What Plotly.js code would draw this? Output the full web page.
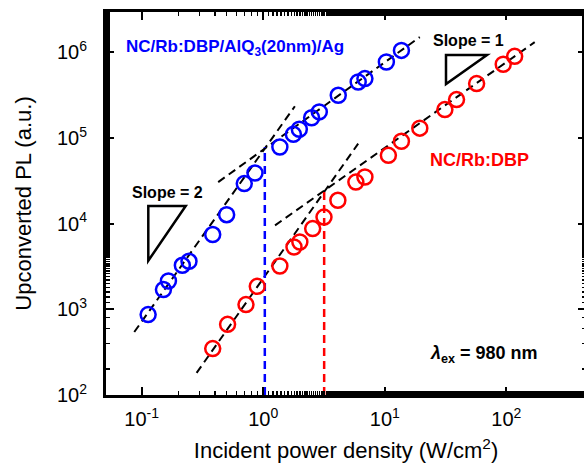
<!DOCTYPE html>
<html>
<head>
<meta charset="utf-8">
<script src="https://cdn.plot.ly/plotly-3.0.1.min.js"></script>
<style>html,body{margin:0;padding:0;overflow:hidden;background:#fff;}</style>
</head>
<body>
<div id="chart"></div>
<script>
// Data
const blueX = [0.113,0.151,0.166,0.216,0.245,0.384,0.500,0.698,0.855,1.37,1.77,1.98,2.50,2.89,4.14,6.04,6.86,10.3,13.7];
const blueY = [867,1698,2138,3260,3630,7450,12700,29300,38900,78300,110000,126000,172000,201000,314000,449000,492000,769000,1050000];
const redX = [0.384,0.509,0.721,0.893,1.37,1.79,2.00,2.55,3.16,4.11,5.78,6.86,10.7,13.7,19.4,31.2,38.9,56.9,94.2,117];
const redY = [348,668,1135,1854,3200,5330,6100,8740,11900,18700,30500,35000,62600,91300,130000,214000,280000,430000,723000,895000];

// Power-law fit guides (endpoints)
const fitBlue2X = [0.0869, 1.82];
const fitBlue2Y = [543, 234000];
const fitBlue1X = [0.426, 19.4];
const fitBlue1Y = [30500, 1500000];
const fitRed2X = [0.283, 6.04];
const fitRed2Y = [181, 85700];
const fitRed1X = [1.25, 171];
const fitRed1Y = [9550, 1310000];

// Threshold markers
const blueThreshX = [1.03, 1.03];
const blueThreshY = [100, 77600];
const redThreshX = [3.17, 3.17];
const redThreshY = [100, 24500];

const xTickVals = [0.1, 1, 10, 100];
const xTickText = ['10<sup>-1</sup>', '10<sup>0</sup>', '10<sup>1</sup>', '10<sup>2</sup>'];
const yTickVals = [100, 1000, 10000, 100000, 1000000];
const yTickText = ['10<sup>2</sup>', '10<sup>3</sup>', '10<sup>4</sup>', '10<sup>5</sup>', '10<sup>6</sup>'];

const W = 587, H = 464;
const M = {l: 106, r: 1, t: 12, b: 69};
const pw = W - M.l - M.r, ph = H - M.t - M.b;
const px = x => (x - M.l) / pw;
const py = y => (H - M.b - y) / ph;

const FONT = 'Arial, "Liberation Sans", Helvetica, sans-serif';
const BLUE = '#0000ff', RED = '#ff0000';

function fit(x, y) {
  return {x: x, y: y, mode: 'lines', type: 'scatter', hoverinfo: 'skip',
    line: {color: '#000', width: 2, dash: '8px,5px'}};
}
function vline(x, y, c) {
  return {x: x, y: y, mode: 'lines', type: 'scatter', hoverinfo: 'skip',
    line: {color: c, width: 2.5, dash: '8px,5px'}};
}
function pts(x, y, c) {
  return {x: x, y: y, mode: 'markers', type: 'scatter',
    marker: {symbol: 'circle-open', size: 15, color: c, line: {width: 2.5, color: c}}};
}

const traces = [
  fit(fitBlue2X, fitBlue2Y), fit(fitBlue1X, fitBlue1Y),
  fit(fitRed2X, fitRed2Y), fit(fitRed1X, fitRed1Y),
  vline(blueThreshX, blueThreshY, BLUE), vline(redThreshX, redThreshY, RED),
  pts(blueX, blueY, BLUE), pts(redX, redY, RED)
];

function tri(p) {
  return {type: 'path', xref: 'paper', yref: 'paper',
    path: 'M' + px(p[0][0]) + ',' + py(p[0][1]) + ' L' + px(p[1][0]) + ',' + py(p[1][1]) +
          ' L' + px(p[2][0]) + ',' + py(p[2][1]) + ' Z',
    line: {color: '#000', width: 2.5}};
}

function ann(text, x, y, color, size, xanchor) {
  return {text: text, xref: 'paper', yref: 'paper', x: px(x), y: py(y), showarrow: false,
    xanchor: xanchor || 'left', yanchor: 'middle',
    font: {family: FONT, size: size, color: color, weight: 'bold'}};
}

const axisCommon = {
  type: 'log', showgrid: false, zeroline: false,
  showline: true, linecolor: '#000', linewidth: 3, mirror: 'allticks',
  ticks: 'inside', ticklen: 8, tickwidth: 2, tickcolor: '#000',
  minor: {ticks: 'inside', ticklen: 4, tickwidth: 1.5, tickcolor: '#000', showgrid: false},
  tickfont: {family: FONT, size: 20, color: '#000'},
  tickmode: 'array'
};

const layout = {
  width: W, height: H, margin: M,
  paper_bgcolor: '#fff', plot_bgcolor: '#fff', showlegend: false,
  xaxis: Object.assign({}, axisCommon, {
    range: [Math.log10(0.1) - 0.2935, 2.655],
    tickvals: xTickVals, ticktext: xTickText, ticklabelstandoff: 4,
    title: {text: 'Incident power density (W/cm<sup>2</sup>)', font: {family: FONT, size: 22, color: '#000'}, standoff: 14}
  }),
  yaxis: Object.assign({}, axisCommon, {
    range: [2, 6.469],
    tickvals: yTickVals, ticktext: yTickText, ticklabelstandoff: 12,
    title: {text: 'Upconverted PL (a.u.)', font: {family: FONT, size: 22, color: '#000'}, standoff: 20}
  }),
  shapes: [
    tri([[148.3, 206], [185.7, 206], [148.3, 260.7]]),
    tri([[446, 55], [487, 55], [446, 84]])
  ],
  annotations: [
    ann('NC/Rb:DBP/AlQ<sub>3</sub>(20nm)/Ag', 124, 48, BLUE, 17),
    ann('NC/Rb:DBP', 428, 160, RED, 18),
    ann('Slope = 2', 130, 192, '#000', 16),
    ann('Slope = 1', 431, 40, '#000', 16),
    ann('<i>λ</i><sub>ex</sub> = 980 nm', 428, 354, '#000', 18)
  ]
};

Plotly.newPlot('chart', traces, layout, {staticPlot: true, displayModeBar: false});
</script>
</body>
</html>
